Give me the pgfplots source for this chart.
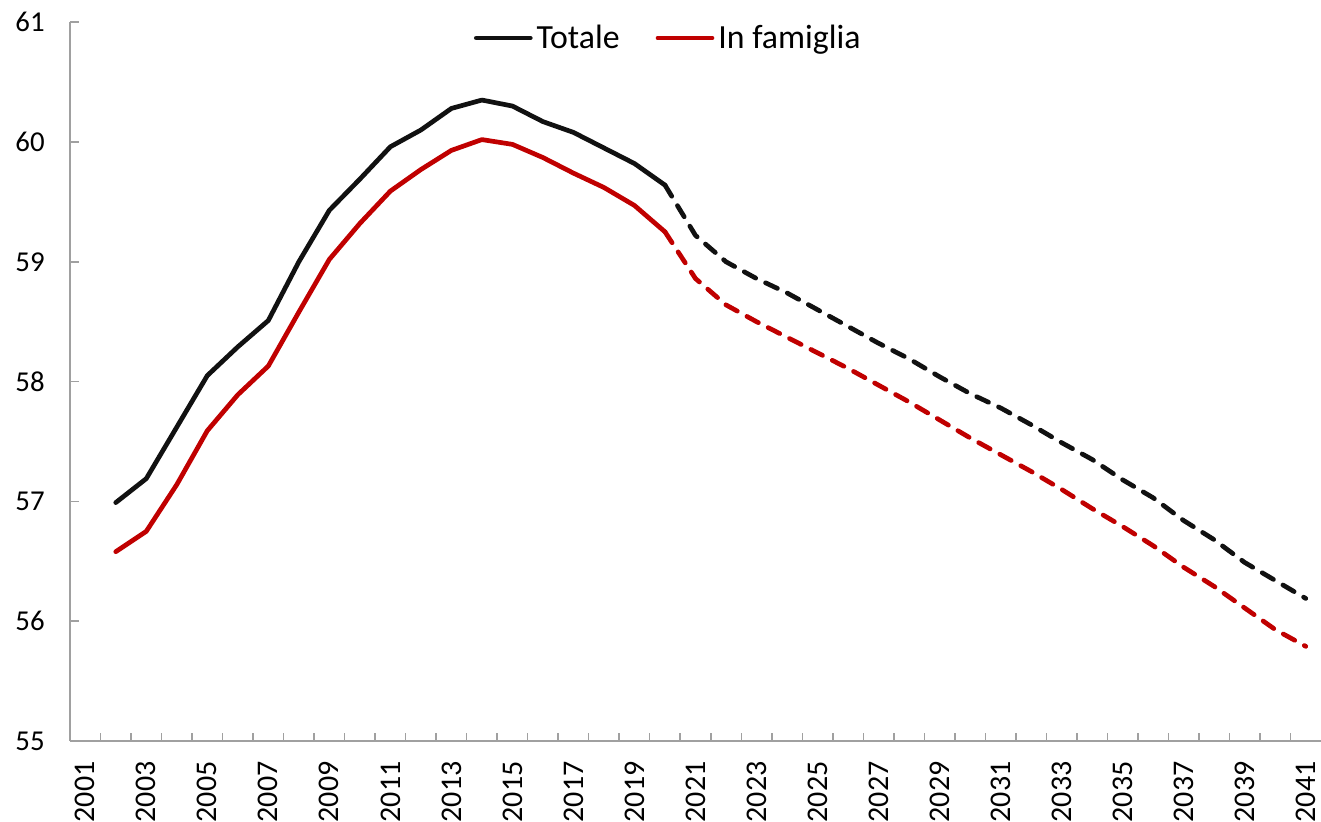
\documentclass[border=0pt]{standalone}
\usepackage{fontspec}
\setmainfont{Carlito}
\usepackage{pgfplots}
\pgfplotsset{compat=1.18}
\definecolor{axgray}{RGB}{160,160,160}
\definecolor{redline}{RGB}{192,0,0}
\definecolor{blackline}{RGB}{17,17,17}
\begin{document}
\begin{tikzpicture}
\begin{axis}[
  scale only axis,
  width=625.5pt, height=359.4pt,
  xmin=2000.5, xmax=2041.5,
  ymin=55, ymax=61,
  axis x line*=bottom, axis y line*=left,
  axis line style={axgray, line width=0.75pt, -},
  xtick={2001,2003,...,2041},
  major x tick style={draw=none},
  minor xtick={2001.5,2002.5,...,2040.5},
  minor x tick style={axgray, line width=0.75pt},
  minor tick length=4pt,
  ytick={55,56,...,61},
  major y tick style={axgray, line width=0.75pt},
  major tick length=4.5pt,
  tick align=inside,
  /pgf/number format/assume math mode=true,
  /pgf/number format/1000 sep={},
  tick label style={font=\fontsize{14.4}{16}\selectfont, black},
  xticklabel style={font=\fontsize{15}{16}\selectfont, anchor=east, inner sep=0pt, yshift=-10pt, rotate=90},
  yticklabel style={anchor=east, inner sep=0pt, xshift=-12.5pt},
  legend style={at={(rel axis cs:0.479,0.978)}, anchor=center, draw=none, fill=none,
    font=\fontsize{16.9}{18}\selectfont, legend columns=2,
    /tikz/every even column/.append style={column sep=16pt}},
  legend cell align=left,
  legend image code/.code={\draw[#1, line cap=round] (0pt,0pt) -- (27pt,0pt);},
  clip=false,
]
\coordinate (O) at (rel axis cs:0,0);
\addplot[blackline, line width=2.35pt, line cap=round, line join=round] coordinates {
(2002,56.99) (2003,57.19) (2004,57.62) (2005,58.05) (2006,58.29) (2007,58.51)
(2008,59.00) (2009,59.43) (2010,59.69) (2011,59.96) (2012,60.10) (2013,60.28)
(2014,60.35) (2015,60.30) (2016,60.17) (2017,60.08) (2018,59.95) (2019,59.82)
(2020,59.64)};
\addlegendentry{Totale}
\addplot[redline, line width=2.35pt, line cap=round, line join=round] coordinates {
(2002,56.58) (2003,56.75) (2004,57.14) (2005,57.59) (2006,57.89) (2007,58.13)
(2008,58.58) (2009,59.02) (2010,59.32) (2011,59.59) (2012,59.77) (2013,59.93)
(2014,60.02) (2015,59.98) (2016,59.87) (2017,59.74) (2018,59.62) (2019,59.47)
(2020,59.25)};
\addlegendentry{In famiglia}
\addplot[blackline, line width=2.35pt, line cap=round, line join=round,
  dash pattern=on 6.5pt off 5.5pt, forget plot] coordinates {
(2020,59.64) (2021,59.22) (2022,59.00) (2023,58.86) (2024,58.74) (2025,58.60)
(2026,58.46) (2027,58.32) (2028,58.19) (2029,58.04) (2030,57.90) (2031,57.78)
(2032,57.64) (2033,57.49) (2034,57.35) (2035,57.18) (2036,57.03) (2037,56.84)
(2038,56.68) (2039,56.49) (2040,56.34) (2041,56.19)};
\addplot[redline, line width=2.35pt, line cap=round, line join=round,
  dash pattern=on 6.5pt off 5.5pt, forget plot] coordinates {
(2020,59.25) (2021,58.86) (2022,58.64) (2023,58.50) (2024,58.37) (2025,58.24)
(2026,58.11) (2027,57.97) (2028,57.83) (2029,57.68) (2030,57.53) (2031,57.39)
(2032,57.25) (2033,57.10) (2034,56.94) (2035,56.79) (2036,56.63) (2037,56.45)
(2038,56.29) (2039,56.11) (2040,55.93) (2041,55.79)};
\end{axis}
\pgfresetboundingbox
\path[use as bounding box] (O) ++(-35pt,-40.5pt) rectangle ++(660.5pt,411pt);
\end{tikzpicture}
\end{document}
